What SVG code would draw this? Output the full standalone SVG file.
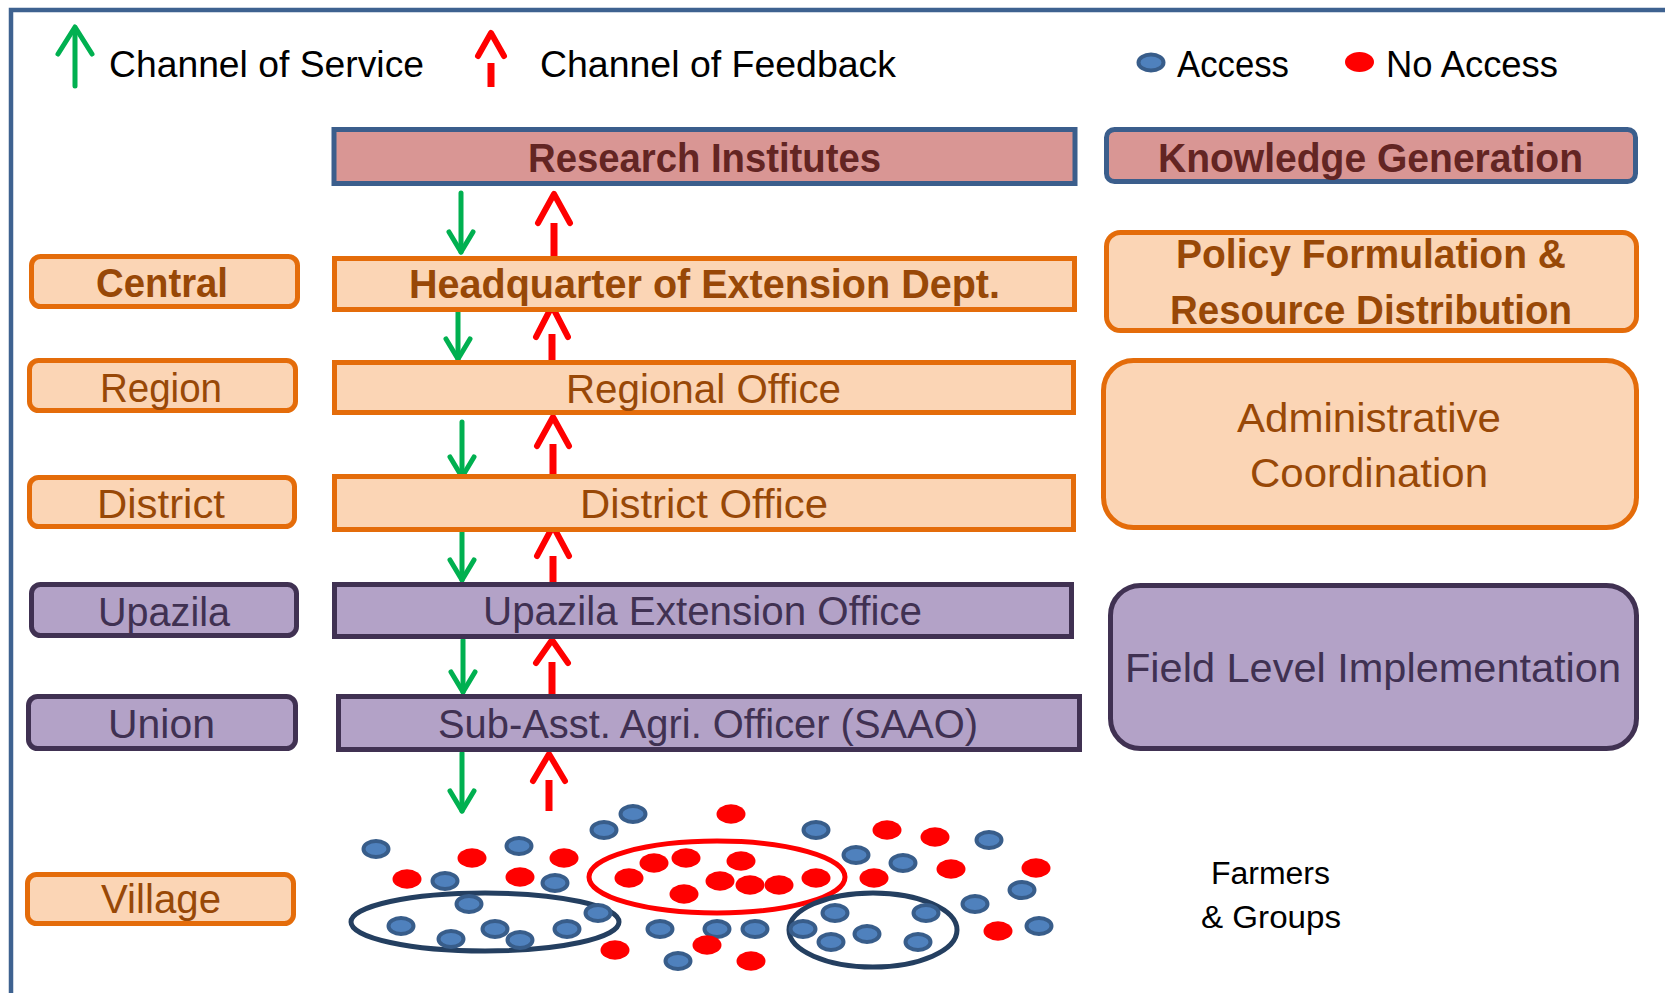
<svg xmlns="http://www.w3.org/2000/svg" width="1665" height="993" viewBox="0 0 1665 993">
<defs>
<style>
text{font-family:"Liberation Sans",Arial,sans-serif;}
.t{font-size:40px;}
.b{font-weight:bold;}
.lg{font-size:36px;fill:#000;}
.fg{font-size:31px;fill:#000;}
.or{fill:#FBD5B5;stroke:#E46C0A;stroke-width:5;}
.ot{fill:#984807;}
.pu{fill:#B3A2C7;stroke:#403152;stroke-width:5;}
.pt{fill:#403152;}
.rs{fill:#D99694;stroke:#3B5E8C;stroke-width:5;}
.rt{fill:#632523;}
.gs{stroke:#00B050;stroke-width:5;fill:none;stroke-linecap:round;stroke-linejoin:round;}
.gh{stroke:#00B050;stroke-width:5;fill:none;stroke-linecap:round;stroke-linejoin:round;}
.rh{stroke:#FF0000;stroke-width:6;fill:none;stroke-linecap:round;stroke-linejoin:round;}
.rb{stroke:#FF0000;stroke-width:7;fill:none;}
.bd{fill:#4F81BD;stroke:#385D8A;stroke-width:4;}
.rd{fill:#FF0000;}
</style>
</defs>
<rect width="1665" height="993" fill="#fff"/>
<path d="M11 993 L11 10 L1665 10" fill="none" stroke="#3E6290" stroke-width="4.5"/>

<g id="legend">
<path class="gs" d="M75 86 L75 32" stroke-width="7"/>
<path class="gh" d="M58 54 L75 27 L92 54" stroke-width="8"/>
<text class="lg" x="109" y="77" textLength="315" lengthAdjust="spacingAndGlyphs">Channel of Service</text>
<path class="rh" d="M478 56 L491 33 L504 56" stroke-width="5"/>
<path class="rb" d="M491 63 L491 87" stroke-width="6"/>
<text class="lg" x="540" y="77" textLength="356" lengthAdjust="spacingAndGlyphs">Channel of Feedback</text>
<ellipse class="bd" cx="1151" cy="62.5" rx="12.5" ry="8"/>
<text class="lg" x="1177" y="77" textLength="112" lengthAdjust="spacingAndGlyphs">Access</text>
<ellipse class="rd" cx="1359.5" cy="62" rx="14.5" ry="10"/>
<text class="lg" x="1386" y="77" textLength="172" lengthAdjust="spacingAndGlyphs">No Access</text>
</g>

<g id="connectors">
<path class="gs" d="M461 193 L461 252"/><path class="gh" d="M449 232 L461 252 L473 232"/>
<path class="rh" d="M538 223 L554 194 L570 223"/><path class="rb" d="M554 223 L554 256"/>

<path class="gs" d="M458 303 L458 359"/><path class="gh" d="M446 339 L458 359 L470 339"/>
<path class="rh" d="M536 337 L552 306 L568 337"/><path class="rb" d="M552 334 L552 362"/>

<path class="gs" d="M462 422 L462 477"/><path class="gh" d="M450 457 L462 477 L474 457"/>
<path class="rh" d="M537 446 L553 417 L569 446"/><path class="rb" d="M553 444 L553 476"/>

<path class="gs" d="M462 527 L462 580"/><path class="gh" d="M450 560 L462 580 L474 560"/>
<path class="rh" d="M537 556 L553 526 L569 556"/><path class="rb" d="M553 556 L553 583"/>

<path class="gs" d="M463 640 L463 692"/><path class="gh" d="M451 672 L463 692 L475 672"/>
<path class="rh" d="M536 663 L552 640 L568 663"/><path class="rb" d="M552 662 L552 696"/>

<path class="gs" d="M462 753 L462 811"/><path class="gh" d="M450 791 L462 811 L474 791"/>
<path class="rh" d="M533 781 L549 754 L565 781"/><path class="rb" d="M549 780 L549 811"/>
</g>

<g id="research-institutes"><rect class="rs" x="334" y="129.5" width="741" height="54"/>
<text class="t b rt" x="528" y="172" textLength="353" lengthAdjust="spacingAndGlyphs">Research Institutes</text></g>
<g id="knowledge-generation"><rect class="rs" x="1106.5" y="129.5" width="529" height="52" rx="8"/>
<text class="t b rt" x="1158" y="172" textLength="425" lengthAdjust="spacingAndGlyphs">Knowledge Generation</text></g>

<g id="central"><rect class="or" x="31.5" y="256.5" width="266" height="50" rx="9"/>
<text class="t b ot" x="96" y="297" textLength="132" lengthAdjust="spacingAndGlyphs">Central</text></g>
<g id="headquarter"><rect class="or" x="334.5" y="258.5" width="740" height="51"/>
<text class="t b ot" x="409" y="298" textLength="591" lengthAdjust="spacingAndGlyphs">Headquarter of Extension Dept.</text></g>
<g id="policy"><rect class="or" x="1106.5" y="232.5" width="530" height="98" rx="14"/>
<text class="t b ot" x="1176" y="268" textLength="390" lengthAdjust="spacingAndGlyphs">Policy Formulation &amp;</text>
<text class="t b ot" x="1170" y="324" textLength="402" lengthAdjust="spacingAndGlyphs">Resource Distribution</text></g>

<g id="region"><rect class="or" x="29.5" y="360.5" width="266" height="50" rx="9"/>
<text class="t ot" x="100" y="402" textLength="122" lengthAdjust="spacingAndGlyphs">Region</text></g>
<g id="regional-office"><rect class="or" x="334.5" y="362.5" width="739" height="50"/>
<text class="t ot" x="566" y="403" textLength="275" lengthAdjust="spacingAndGlyphs">Regional Office</text></g>
<g id="administrative"><rect class="or" x="1103.5" y="360.5" width="533" height="167" rx="30"/>
<text class="t ot" x="1237" y="432" textLength="264" lengthAdjust="spacingAndGlyphs">Administrative</text>
<text class="t ot" x="1250" y="487" textLength="238" lengthAdjust="spacingAndGlyphs">Coordination</text></g>

<g id="district"><rect class="or" x="29.5" y="477.5" width="265" height="49" rx="9"/>
<text class="t ot" x="97" y="518" textLength="128" lengthAdjust="spacingAndGlyphs">District</text></g>
<g id="district-office"><rect class="or" x="334.5" y="476.5" width="739" height="53"/>
<text class="t ot" x="580" y="518" textLength="248" lengthAdjust="spacingAndGlyphs">District Office</text></g>

<g id="upazila"><rect class="pu" x="31.5" y="584.5" width="265" height="51" rx="9"/>
<text class="t pt" x="98" y="626" textLength="132" lengthAdjust="spacingAndGlyphs">Upazila</text></g>
<g id="upazila-office"><rect class="pu" x="334.5" y="584.5" width="737" height="52"/>
<text class="t pt" x="483" y="625" textLength="439" lengthAdjust="spacingAndGlyphs">Upazila Extension Office</text></g>
<g id="field-level"><rect class="pu" x="1110.5" y="585.5" width="526" height="163" rx="30"/>
<text class="t pt" x="1125" y="682" textLength="496" lengthAdjust="spacingAndGlyphs">Field Level Implementation</text></g>

<g id="union"><rect class="pu" x="28.5" y="696.5" width="267" height="52" rx="9"/>
<text class="t pt" x="108" y="738" textLength="107" lengthAdjust="spacingAndGlyphs">Union</text></g>
<g id="saao"><rect class="pu" x="338.5" y="696.5" width="741" height="53"/>
<text class="t pt" x="438" y="738" textLength="540" lengthAdjust="spacingAndGlyphs">Sub-Asst. Agri. Officer (SAAO)</text></g>

<g id="village"><rect class="or" x="27.5" y="874.5" width="266" height="49" rx="9"/>
<text class="t ot" x="101" y="913" textLength="120" lengthAdjust="spacingAndGlyphs">Village</text></g>

<g id="farmers">
<g id="groups">
<ellipse cx="485" cy="922" rx="134" ry="29" fill="none" stroke="#243F60" stroke-width="5"/>
<ellipse cx="717" cy="877" rx="128" ry="36" fill="none" stroke="#FF0000" stroke-width="5"/>
<ellipse cx="873" cy="930" rx="84" ry="37" fill="none" stroke="#243F60" stroke-width="5"/>
</g>
<g id="access-dots">
<ellipse class="bd" cx="376" cy="849" rx="12.5" ry="8"/>
<ellipse class="bd" cx="519" cy="846" rx="12.5" ry="8"/>
<ellipse class="bd" cx="633" cy="814" rx="12.5" ry="8"/>
<ellipse class="bd" cx="604" cy="830" rx="12.5" ry="8"/>
<ellipse class="bd" cx="445" cy="881" rx="12.5" ry="8"/>
<ellipse class="bd" cx="555" cy="883" rx="12.5" ry="8"/>
<ellipse class="bd" cx="469" cy="904" rx="12.5" ry="8"/>
<ellipse class="bd" cx="401" cy="926" rx="12.5" ry="8"/>
<ellipse class="bd" cx="451" cy="939" rx="12.5" ry="8"/>
<ellipse class="bd" cx="495" cy="929" rx="12.5" ry="8"/>
<ellipse class="bd" cx="520" cy="940" rx="12.5" ry="8"/>
<ellipse class="bd" cx="567" cy="929" rx="12.5" ry="8"/>
<ellipse class="bd" cx="598" cy="913" rx="12.5" ry="8"/>
<ellipse class="bd" cx="660" cy="929" rx="12.5" ry="8"/>
<ellipse class="bd" cx="678" cy="961" rx="12.5" ry="8"/>
<ellipse class="bd" cx="717" cy="929" rx="12.5" ry="8"/>
<ellipse class="bd" cx="755" cy="929" rx="12.5" ry="8"/>
<ellipse class="bd" cx="803" cy="929" rx="12.5" ry="8"/>
<ellipse class="bd" cx="816" cy="830" rx="12.5" ry="8"/>
<ellipse class="bd" cx="856" cy="855" rx="12.5" ry="8"/>
<ellipse class="bd" cx="903" cy="863" rx="12.5" ry="8"/>
<ellipse class="bd" cx="989" cy="840" rx="12.5" ry="8"/>
<ellipse class="bd" cx="1022" cy="890" rx="12.5" ry="8"/>
<ellipse class="bd" cx="975" cy="904" rx="12.5" ry="8"/>
<ellipse class="bd" cx="1039" cy="926" rx="12.5" ry="8"/>
<ellipse class="bd" cx="835" cy="913" rx="12.5" ry="8"/>
<ellipse class="bd" cx="831" cy="942" rx="12.5" ry="8"/>
<ellipse class="bd" cx="867" cy="934" rx="12.5" ry="8"/>
<ellipse class="bd" cx="926" cy="913" rx="12.5" ry="8"/>
<ellipse class="bd" cx="918" cy="942" rx="12.5" ry="8"/>
</g>
<g id="no-access-dots">
<ellipse class="rd" cx="731" cy="814" rx="14.5" ry="9.7"/>
<ellipse class="rd" cx="887" cy="830" rx="14.5" ry="9.7"/>
<ellipse class="rd" cx="935" cy="837" rx="14.5" ry="9.7"/>
<ellipse class="rd" cx="1036" cy="868" rx="14.5" ry="9.7"/>
<ellipse class="rd" cx="951" cy="869" rx="14.5" ry="9.7"/>
<ellipse class="rd" cx="874" cy="878" rx="14.5" ry="9.7"/>
<ellipse class="rd" cx="472" cy="858" rx="14.5" ry="9.7"/>
<ellipse class="rd" cx="564" cy="858" rx="14.5" ry="9.7"/>
<ellipse class="rd" cx="407" cy="879" rx="14.5" ry="9.7"/>
<ellipse class="rd" cx="520" cy="877" rx="14.5" ry="9.7"/>
<ellipse class="rd" cx="629" cy="878" rx="14.5" ry="9.7"/>
<ellipse class="rd" cx="654" cy="863" rx="14.5" ry="9.7"/>
<ellipse class="rd" cx="686" cy="858" rx="14.5" ry="9.7"/>
<ellipse class="rd" cx="741" cy="861" rx="14.5" ry="9.7"/>
<ellipse class="rd" cx="720" cy="881" rx="14.5" ry="9.7"/>
<ellipse class="rd" cx="750" cy="885" rx="14.5" ry="9.7"/>
<ellipse class="rd" cx="779" cy="885" rx="14.5" ry="9.7"/>
<ellipse class="rd" cx="816" cy="878" rx="14.5" ry="9.7"/>
<ellipse class="rd" cx="684" cy="894" rx="14.5" ry="9.7"/>
<ellipse class="rd" cx="615" cy="950" rx="14.5" ry="9.7"/>
<ellipse class="rd" cx="707" cy="945" rx="14.5" ry="9.7"/>
<ellipse class="rd" cx="751" cy="961" rx="14.5" ry="9.7"/>
<ellipse class="rd" cx="998" cy="931" rx="14.5" ry="9.7"/>
</g>
<text class="fg" x="1211" y="884" textLength="119" lengthAdjust="spacingAndGlyphs">Farmers</text>
<text class="fg" x="1201" y="928" textLength="140" lengthAdjust="spacingAndGlyphs">&amp; Groups</text>
</g>
</svg>
